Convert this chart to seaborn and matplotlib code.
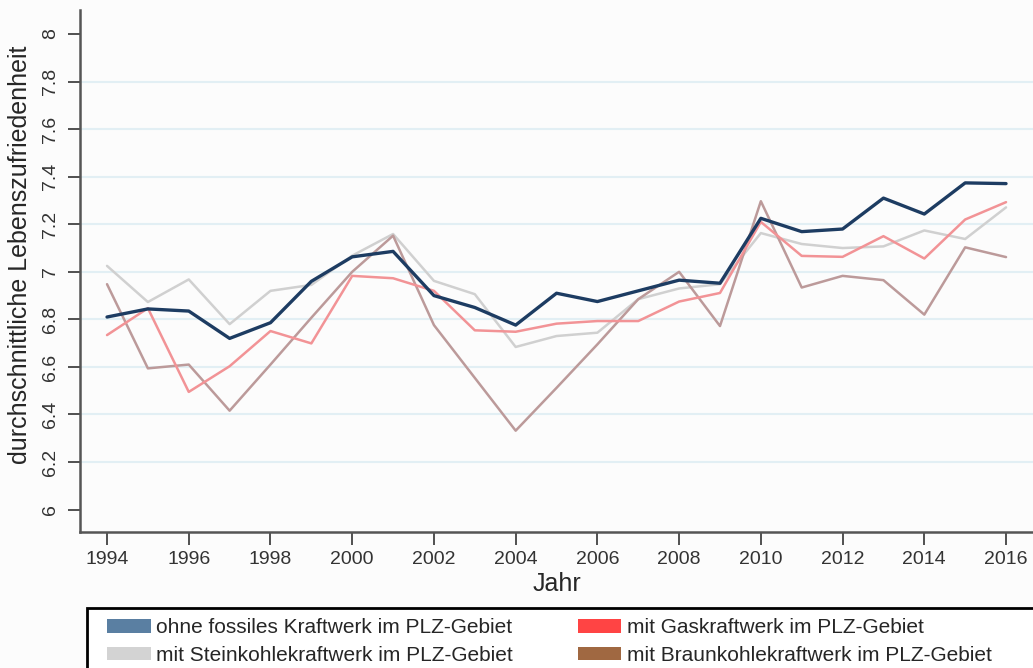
import matplotlib
matplotlib.use("Agg")
import matplotlib.pyplot as plt
import seaborn as sns
import pandas as pd
from matplotlib.patches import Patch, Rectangle

# Jahre 1994-2016
jahre = list(range(1994, 2017))

ohne_fossil = [6.81, 6.844, 6.835, 6.72, 6.786, 6.96, 7.063, 7.086, 6.90, 6.85, 6.776,
               6.91, 6.875, 6.92, 6.965, 6.952, 7.225, 7.169, 7.18, 7.31, 7.243, 7.374, 7.371]
gas = [6.734, 6.847, 6.495, 6.603, 6.751, 6.699, 6.983, 6.973, 6.92, 6.754, 6.748,
       6.782, 6.793, 6.793, 6.875, 6.911, 7.21, 7.067, 7.063, 7.15, 7.056, 7.22, 7.293]
steinkohle = [7.025, 6.873, 6.968, 6.78, 6.92, 6.945, 7.068, 7.159, 6.962, 6.906, 6.684,
              6.73, 6.744, 6.885, 6.93, 6.948, 7.163, 7.117, 7.10, 7.107, 7.174, 7.138, 7.271]
braunkohle = [6.948, 6.594, 6.61, 6.416, 6.61, 6.807, 7.0, 7.152, 6.776, 6.554, 6.332,
              6.512, 6.695, 6.885, 7.0, 6.772, 7.297, 6.934, 6.983, 6.965, 6.82, 7.103, 7.062]

labels = ["ohne fossiles Kraftwerk im PLZ-Gebiet",
          "mit Gaskraftwerk im PLZ-Gebiet",
          "mit Steinkohlekraftwerk im PLZ-Gebiet",
          "mit Braunkohlekraftwerk im PLZ-Gebiet"]
line_colors = ["#1d3c62", "#f29396", "#d0d0d0", "#bc9a9a"]
legend_colors = ["#5a7fa2", "#ff4444", "#d3d3d3", "#a06841"]
line_widths = [2.4, 1.8, 1.8, 1.8]

df = pd.DataFrame({
    "Jahr": jahre * 4,
    "wert": ohne_fossil + gas + steinkohle + braunkohle,
    "gruppe": sum([[l] * len(jahre) for l in labels], []),
})

sns.set_style("white")
plt.rcParams['font.family'] = ['Liberation Sans', 'DejaVu Sans']

fig = plt.figure(figsize=(10.33, 6.68), dpi=100, facecolor="#fcfcfc")
ax = fig.add_axes([0.0775, 0.204, 0.9225, 0.781])
ax.set_facecolor("#fcfcfc")

for y in [6.2, 6.4, 6.6, 6.8, 7.0, 7.2, 7.4, 7.6, 7.8]:
    ax.axhline(y, color="#e2eff4", lw=1.5, zorder=0)

# grey and brown underneath, blue on top
for i in [2, 3, 1, 0]:
    sub = df[df["gruppe"] == labels[i]]
    sns.lineplot(data=sub, x="Jahr", y="wert", ax=ax, color=line_colors[i],
                 lw=line_widths[i], legend=False, zorder=3 + (i == 0))

ax.set_xlim(1993.34, 2016.66)
ax.set_ylim(5.907, 8.101)
ax.set_xticks(range(1994, 2017, 2))
ax.set_yticks([6, 6.2, 6.4, 6.6, 6.8, 7, 7.2, 7.4, 7.6, 7.8, 8])
ax.set_yticklabels(["6", "6.2", "6.4", "6.6", "6.8", "7", "7.2", "7.4", "7.6", "7.8", "8"],
                   rotation=90, va="center")
ax.tick_params(axis="both", labelsize=14, colors="#333333", length=9, width=1.2,
               direction="out", left=True, bottom=True)
ax.tick_params(axis="y", pad=6)
ax.tick_params(axis="x", pad=5)
for s in ["top", "right"]:
    ax.spines[s].set_visible(False)
for s in ["left", "bottom"]:
    ax.spines[s].set_color("#555555")
    ax.spines[s].set_linewidth(1.8)

ax.set_xlabel("Jahr", fontsize=18, labelpad=3)
ax.set_ylabel("durchschnittliche Lebenszufriedenheit", fontsize=18, labelpad=4)
ax.yaxis.set_label_coords(-0.05, 0.53)

# legend box below the plot, running off the right edge
fig.patches.append(Rectangle((87 / 1033, -0.05), 1.0, 1 - 608 / 668 + 0.05,
                             transform=fig.transFigure, facecolor="white",
                             edgecolor="black", lw=2, zorder=0))
order = [0, 2, 1, 3]
handles = [Patch(facecolor=legend_colors[i], edgecolor="none") for i in order]
leg = fig.legend(handles, [labels[i] for i in order], loc="upper left",
                 bbox_to_anchor=(97 / 1033, 1 - 608 / 668), ncol=2, frameon=False,
                 fontsize=15, handlelength=2.1, handleheight=0.6, handletextpad=0.25,
                 labelspacing=0.42, borderpad=0.5, borderaxespad=0, columnspacing=3.1)

fig.savefig("out.png", dpi=100, facecolor=fig.get_facecolor())
